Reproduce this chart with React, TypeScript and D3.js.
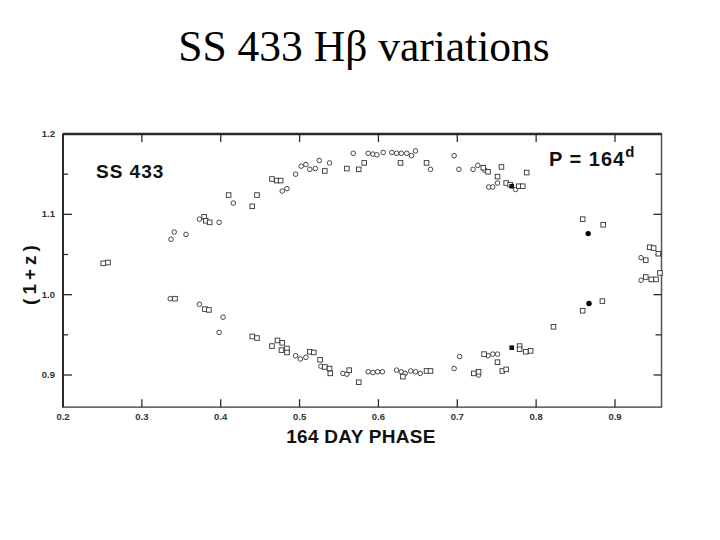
import React from "react";
import * as d3 from "d3";

const xTicks = [0.2, 0.3, 0.4, 0.5, 0.6, 0.7, 0.8, 0.9];
const xTickLabels = ["0.2", "0.3", "0.4", "0.5", "0.6", "0.7", "0.8", "0.9"];
const yMajorTicks = [0.9, 1.0, 1.1, 1.2];
const yTickLabels = ["0.9", "1.0", "1.1", "1.2"];
const yMinorTicks = [0.95, 1.05, 1.15];
const xDomainEnd = 0.959;
const yDomainLow = 0.86;

// open circles [phase, 1+z]
const circlePhase = [
  0.337, 0.341, 0.356, 0.373, 0.398, 0.416, 0.478, 0.484, 0.495, 0.502, 0.508, 0.513, 0.52, 0.525, 0.538,
  0.568, 0.587, 0.593, 0.598, 0.606, 0.617, 0.623, 0.629, 0.636, 0.642, 0.647, 0.666, 0.696, 0.702, 0.72,
  0.726, 0.735, 0.74, 0.745, 0.751, 0.774, 0.933, 0.933,
  0.336, 0.373, 0.403, 0.398, 0.495, 0.501, 0.508, 0.527, 0.555, 0.56, 0.587, 0.593, 0.599, 0.605, 0.623,
  0.629, 0.634, 0.641, 0.647, 0.653, 0.696, 0.703, 0.727, 0.739, 0.745, 0.751,
];
const circleZ = [
  1.069, 1.078, 1.075, 1.094, 1.09, 1.114, 1.129, 1.132, 1.15, 1.16, 1.162, 1.156, 1.157, 1.167, 1.164,
  1.176, 1.176, 1.175, 1.174, 1.177, 1.177, 1.176, 1.176, 1.176, 1.173, 1.179, 1.156, 1.173, 1.156, 1.156,
  1.161, 1.155, 1.134, 1.134, 1.139, 1.131, 1.046, 1.018,
  0.995, 0.988, 0.972, 0.953, 0.924, 0.92, 0.922, 0.911, 0.902, 0.901, 0.904, 0.903, 0.904, 0.904, 0.906,
  0.904, 0.902, 0.905, 0.904, 0.902, 0.908, 0.923, 0.9, 0.924, 0.926, 0.926,
];

// open squares
const squarePhase = [
  0.251, 0.257, 0.342, 0.379, 0.381, 0.386, 0.41, 0.44, 0.446, 0.465, 0.471, 0.476, 0.532, 0.56, 0.575,
  0.582, 0.628, 0.661, 0.733, 0.739, 0.751, 0.756, 0.762, 0.767, 0.778, 0.783, 0.788, 0.859, 0.885,
  0.944, 0.949, 0.955, 0.939, 0.957, 0.939, 0.946, 0.952,
  0.38, 0.385, 0.44, 0.446, 0.465, 0.472, 0.478, 0.477, 0.484, 0.484, 0.513, 0.518, 0.526, 0.532, 0.538,
  0.539, 0.563, 0.575, 0.631, 0.661, 0.666, 0.721, 0.727, 0.734, 0.751, 0.757, 0.762, 0.779, 0.779,
  0.787, 0.793, 0.822, 0.859, 0.884,
];
const squareZ = [
  1.039, 1.04, 0.995, 1.097, 1.092, 1.09, 1.124, 1.11, 1.124, 1.144, 1.142, 1.142, 1.154, 1.157, 1.156,
  1.164, 1.164, 1.164, 1.158, 1.153, 1.147, 1.159, 1.139, 1.137, 1.135, 1.135, 1.152, 1.094, 1.087,
  1.059, 1.058, 1.051, 1.043, 1.027, 1.022, 1.019, 1.019,
  0.982, 0.981, 0.948, 0.946, 0.936, 0.943, 0.94, 0.931, 0.933, 0.928, 0.929, 0.928, 0.919, 0.91, 0.908,
  0.902, 0.906, 0.891, 0.898, 0.905, 0.905, 0.902, 0.904, 0.926, 0.916, 0.905, 0.907, 0.936, 0.932,
  0.929, 0.93, 0.96, 0.98, 0.992,
];

// filled markers
const dotPhase = [0.866, 0.867];
const dotZ = [1.076, 0.989];
const filledSquarePhase = [0.769, 0.769];
const filledSquareZ = [1.135, 0.934];

const W = 720;
const H = 540;

export default function App() {
  const x = d3.scaleLinear().domain([0.2, 0.9]).range([63, 615]);
  const y = d3.scaleLinear().domain([0.9, 1.2]).range([375, 134]);
  const left = x(0.2);
  const right = x(xDomainEnd);
  const top = y(1.2);
  const bottom = y(yDomainLow);
  const ink = "#2a2a2a";
  const sans = "'Liberation Sans', Arial, sans-serif";

  const circles = circlePhase.map((p, i) => ({ p, z: circleZ[i] }));
  const squares = squarePhase.map((p, i) => ({ p, z: squareZ[i] }));
  const dots = dotPhase.map((p, i) => ({ p, z: dotZ[i] }));
  const fsq = filledSquarePhase.map((p, i) => ({ p, z: filledSquareZ[i] }));

  return (
    <svg
      width={W}
      height={H}
      viewBox={`0 0 ${W} ${H}`}
      style={{ position: "absolute", left: 0, top: 0, background: "#fff" }}
    >
      <rect x={0} y={0} width={W} height={H} fill="#fff" />
      <text
        x={364}
        y={61}
        textAnchor="middle"
        fontFamily="'Liberation Serif', 'Times New Roman', serif"
        fontSize={43.5}
        fill="#000"
      >
        SS 433 Hβ variations
      </text>

      {/* frame */}
      <rect x={left} y={top} width={right - left} height={bottom - top} fill="none" stroke="#555" strokeWidth={1.5} />
      <line x1={left} x2={right} y1={top} y2={top} stroke={ink} strokeWidth={2.5} />
      <line x1={left} x2={left} y1={top} y2={bottom} stroke={ink} strokeWidth={2} />

      {/* x ticks */}
      {xTicks.slice(1).map((t) => (
        <g key={"xt" + t}>
          <line x1={x(t)} x2={x(t)} y1={bottom} y2={bottom - 8} stroke={ink} strokeWidth={1.3} />
          <line x1={x(t)} x2={x(t)} y1={top} y2={top + 8} stroke={ink} strokeWidth={1.3} />
        </g>
      ))}
      {xTicks.map((t, i) => (
        <text
          key={"xl" + t}
          x={x(t)}
          y={bottom + 13}
          textAnchor="middle"
          fontFamily={sans}
          fontWeight="bold"
          fontSize={9.5}
          fill="#333"
        >
          {xTickLabels[i]}
        </text>
      ))}

      {/* y ticks */}
      {yMajorTicks.map((t, i) => (
        <g key={"ym" + t}>
          <line x1={left} x2={left + 9} y1={y(t)} y2={y(t)} stroke={ink} strokeWidth={1.3} />
          <line x1={right} x2={right - 8} y1={y(t)} y2={y(t)} stroke={ink} strokeWidth={1.3} />
          <text
            x={left - 8}
            y={y(t) + 3}
            textAnchor="end"
            fontFamily={sans}
            fontWeight="bold"
            fontSize={9.5}
            fill="#333"
          >
            {yTickLabels[i]}
          </text>
        </g>
      ))}
      {yMinorTicks.map((t) => (
        <g key={"yn" + t}>
          <line x1={left} x2={left + 5} y1={y(t)} y2={y(t)} stroke={ink} strokeWidth={1.3} />
          <line x1={right} x2={right - 6} y1={y(t)} y2={y(t)} stroke={ink} strokeWidth={1.3} />
        </g>
      ))}

      {/* axis titles */}
      <text
        x={361}
        y={443}
        textAnchor="middle"
        fontFamily={sans}
        fontWeight="bold"
        fontSize={19}
        letterSpacing={0.3}
        fill="#111"
      >
        164 DAY PHASE
      </text>
      <text
        transform="translate(36,273) rotate(-90)"
        textAnchor="middle"
        fontFamily={sans}
        fontWeight="bold"
        fontSize={19}
        letterSpacing={4}
        fill="#111"
      >
        (1+z)
      </text>

      {/* in-plot labels */}
      <text x={96} y={178} fontFamily={sans} fontWeight="bold" fontSize={19} letterSpacing={1} fill="#111">
        SS 433
      </text>
      <text x={549} y={166} fontFamily={sans} fontWeight="bold" fontSize={20} letterSpacing={1} fill="#111">
        P = 164
        <tspan fontSize={15} dy={-9}>d</tspan>
      </text>

      {/* data */}
      {circles.map((d, i) => (
        <circle key={"c" + i} cx={x(d.p)} cy={y(d.z)} r={2.3} fill="#fff" stroke="#333" strokeWidth={0.9} />
      ))}
      {squares.map((d, i) => (
        <rect
          key={"s" + i}
          x={x(d.p) - 2.3}
          y={y(d.z) - 2.3}
          width={4.6}
          height={4.6}
          fill="#fff"
          stroke="#333"
          strokeWidth={0.9}
        />
      ))}
      {fsq.map((d, i) => (
        <rect key={"fs" + i} x={x(d.p) - 2.3} y={y(d.z) - 2.3} width={4.6} height={4.6} fill="#111" />
      ))}
      {dots.map((d, i) => (
        <circle key={"d" + i} cx={x(d.p)} cy={y(d.z)} r={2.7} fill="#000" />
      ))}
    </svg>
  );
}
